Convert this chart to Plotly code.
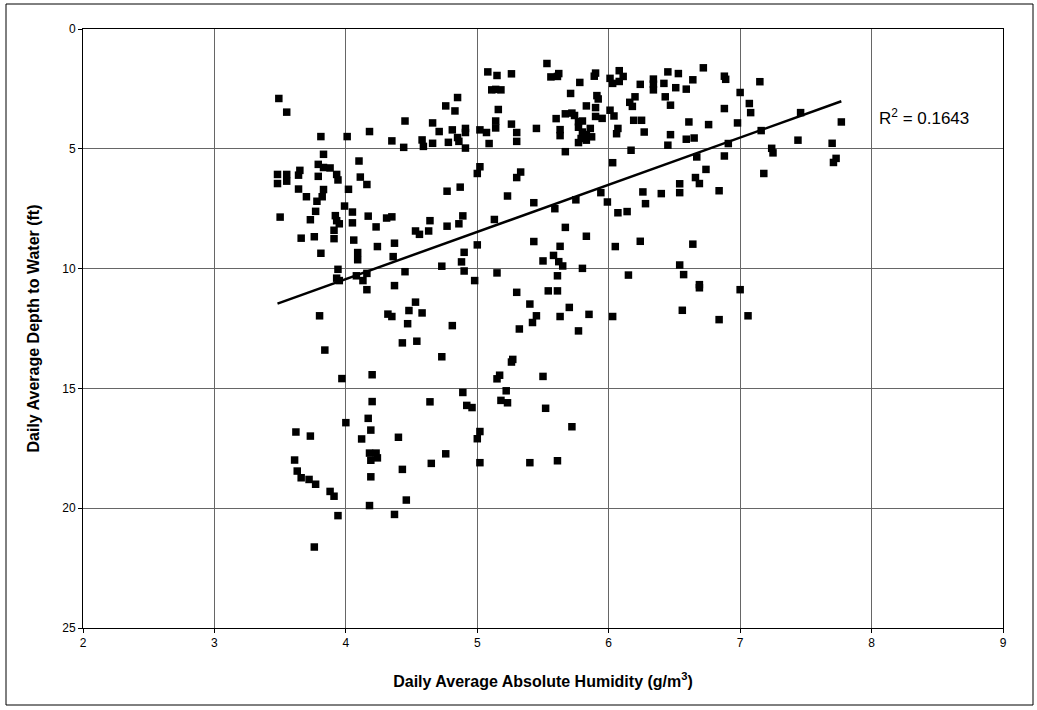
import numpy as np
import plotly.graph_objects as go

humidity = [
3.49,3.55,3.81,4.01,4.18,4.45,4.35,4.44,4.58,4.59,4.66,4.66,4.71,4.76,4.83,4.85,4.81,4.78,4.85,4.86,
4.91,4.91,4.91,5.02,5.07,5.09,5.08,5.15,5.11,5.14,5.18,5.16,5.14,5.14,5.02,5.00,3.83,3.79,3.83,3.88,
3.79,3.93,3.94,4.10,4.11,4.16,4.02,3.48,3.55,3.48,3.55,3.65,3.64,3.64,3.83,4.77,4.87,
5.26,5.53,5.56,5.62,5.61,5.78,5.71,5.90,5.89,5.91,5.92,5.83,5.90,5.90,5.95,6.01,6.03,6.08,6.11,6.08,
6.01,6.04,5.67,5.72,5.74,5.60,5.63,5.63,5.77,5.80,5.77,5.80,5.86,5.83,5.87,5.79,5.77,5.83,5.45,5.26,
5.30,5.30,5.67,6.03,5.30,5.33,6.07,6.06,6.19,6.25,6.27,6.16,6.20,6.18,6.24,6.34,6.34,6.34,6.42,6.45,
6.53,6.51,6.59,6.64,6.72,6.43,6.47,6.61,6.76,6.47,6.45,6.59,6.65,6.88,6.89,6.88,7.00,6.98,6.91,6.88,
6.67,6.74,6.66,6.69,6.54,6.17,
7.15,7.07,7.08,7.16,7.46,7.44,7.77,7.70,7.24,7.25,7.73,7.71,7.18,
3.70,3.78,3.82,3.50,3.73,3.77,3.99,3.92,3.93,3.95,4.05,4.05,3.91,3.91,3.66,3.76,3.81,4.17,4.31,4.35,
4.23,4.06,4.09,4.09,4.24,4.37,4.36,4.53,4.56,4.63,4.64,4.77,4.86,4.89,5.00,4.90,4.88,4.90,4.98,4.73,
4.45,3.94,3.93,3.95,4.08,4.13,4.16,4.16,4.37,4.53,4.48,4.58,4.32,4.35,4.47,3.80,5.13,5.15,5.23,
5.43,5.59,5.75,5.94,5.99,6.26,6.40,6.54,6.84,6.28,6.07,6.14,5.67,5.83,5.43,5.63,6.05,6.24,6.64,5.58,
5.62,5.65,5.50,5.80,5.61,6.15,6.54,6.57,6.69,6.69,7.00,5.30,5.54,5.61,5.40,5.70,5.45,5.63,5.85,6.03,
6.56,6.84,7.06,
4.81,3.84,4.43,4.54,4.73,3.97,4.20,4.89,5.15,5.17,5.22,5.18,5.23,4.20,4.64,4.92,4.96,4.00,4.17,4.19,
3.62,3.73,4.12,4.40,5.02,5.00,
5.32,5.42,5.77,5.27,5.26,5.50,5.52,5.72,
3.61,3.63,3.66,3.72,3.77,3.88,3.91,3.94,3.76,4.18,4.23,4.24,4.19,4.19,4.43,4.65,4.76,5.02,4.18,4.46,
4.37,5.40,5.61,
]

depth = [
2.90,3.47,4.49,4.49,4.28,3.84,4.67,4.94,4.63,4.90,4.77,3.92,4.28,3.21,3.42,2.86,4.21,4.73,4.53,4.69,
4.15,4.32,4.97,4.21,4.32,4.78,1.79,1.94,2.54,2.52,2.54,3.36,3.84,4.13,5.75,6.03,5.23,5.65,5.78,5.80,
6.15,6.07,6.30,5.51,6.18,6.49,6.69,6.07,6.07,6.45,6.35,5.90,6.10,6.68,6.70,6.77,6.60,
1.87,1.44,2.00,1.86,1.98,2.23,2.69,1.84,1.97,2.78,2.92,3.21,3.28,3.65,3.73,2.06,2.27,1.74,1.98,2.19,
3.39,3.63,3.54,3.51,3.61,3.74,4.20,4.45,3.87,3.84,4.10,4.30,4.15,4.41,4.50,4.57,4.74,4.64,4.15,3.97,
4.32,4.69,5.12,5.58,6.20,5.97,4.15,4.37,3.81,3.81,4.30,3.06,2.83,3.23,2.31,2.09,2.30,2.54,2.27,1.79,
1.86,2.45,2.51,2.12,1.62,2.83,3.18,3.88,3.99,4.41,4.85,4.60,4.55,1.97,2.10,3.32,2.65,3.92,4.78,5.30,
5.34,5.86,6.20,6.45,6.46,5.06,
2.20,3.11,3.49,4.24,3.49,4.64,3.88,4.77,4.98,5.17,5.40,5.57,6.03,
7.00,7.19,7.00,7.85,7.96,7.61,7.39,7.79,8.00,8.13,7.64,8.09,8.40,8.75,8.73,8.67,9.36,7.81,7.89,7.84,
8.26,8.81,9.33,9.63,9.08,8.94,9.50,8.43,8.57,8.43,8.00,8.23,8.13,7.80,9.01,9.32,9.72,10.10,10.50,9.90,
10.13,10.03,10.40,10.50,10.30,10.50,10.20,10.88,10.71,11.40,11.75,11.85,11.90,12.00,12.30,11.97,7.95,10.18,6.97,
7.25,7.50,7.13,6.83,7.22,6.80,6.87,6.83,6.75,7.29,7.67,7.62,8.28,8.65,8.87,9.07,9.08,8.86,8.98,9.45,
9.71,9.89,9.68,9.99,10.30,10.27,9.85,10.25,10.67,10.80,10.88,10.99,10.93,10.93,11.48,11.62,11.97,12.00,11.91,12.00,
11.74,12.13,11.97,
12.38,13.40,13.10,13.03,13.68,14.59,14.43,15.17,14.60,14.45,15.10,15.50,15.60,15.55,15.56,15.71,15.80,16.43,16.25,16.74,
16.82,16.99,17.11,17.04,16.80,17.10,
12.52,12.25,12.60,13.79,13.90,14.50,15.83,16.60,
17.99,18.45,18.73,18.80,19.00,19.30,19.50,20.31,21.62,17.70,17.70,17.90,18.00,18.69,18.38,18.13,17.73,18.10,19.89,19.66,
20.26,18.10,18.02,
]

r2_label = "R<sup>2</sup> = 0.1643"
x_ticks = [2, 3, 4, 5, 6, 7, 8, 9]
y_ticks = [0, 5, 10, 15, 20, 25]

hx = np.array(humidity)
dy = np.array(depth)
slope, intercept = np.polyfit(hx, dy, 1)
tx = np.array([hx.min(), hx.max()])
ty = slope * tx + intercept

FONT = "Arial, 'Liberation Sans', sans-serif"

W, H = 1037, 710
L, R, T, B = 83, 34, 29, 82
pw, ph = W - L - R, H - T - B

fig = go.Figure()
fig.add_trace(go.Scatter(
    x=humidity, y=depth, mode="markers",
    marker=dict(symbol="square", size=7.5, color="black", line=dict(width=0)),
    showlegend=False, hoverinfo="x+y"))
fig.add_trace(go.Scatter(
    x=tx, y=ty, mode="lines", line=dict(color="black", width=2.5),
    showlegend=False, hoverinfo="skip"))

fig.add_annotation(x=8.04, y=3.68, xref="x", yref="y", text=r2_label,
                   showarrow=False, xanchor="left", yanchor="middle",
                   font=dict(family=FONT, size=17, color="black"))

# outer chart border
fig.add_shape(type="rect", xref="paper", yref="paper",
              x0=(6 - L) / pw, x1=(1033 - L) / pw,
              y0=-(705 - (T + ph)) / ph, y1=1 + (T - 4) / ph,
              line=dict(color="black", width=1), fillcolor="rgba(0,0,0,0)", layer="below")

fig.update_layout(
    width=W, height=H,
    margin=dict(l=L, r=R, t=T, b=B, autoexpand=False),
    paper_bgcolor="white", plot_bgcolor="white",
    font=dict(family=FONT, size=12, color="black"),
    xaxis=dict(range=[2, 9], tickvals=x_ticks, showgrid=True, gridcolor="#666666", gridwidth=1,
               showline=True, linecolor="black", linewidth=1, mirror=True, automargin=False,
               ticks="outside", ticklen=4, tickcolor="black", zeroline=False,
               tickfont=dict(family=FONT, size=12),
               title=dict(text="<b>Daily Average Absolute Humidity (g/m<sup>3</sup>)</b>",
                          font=dict(family=FONT, size=16), standoff=26)),
    yaxis=dict(range=[25, 0], tickvals=y_ticks, showgrid=True, gridcolor="#666666", gridwidth=1,
               showline=True, linecolor="black", linewidth=1, mirror=True, automargin=False,
               ticks="outside", ticklen=4, tickcolor="black", zeroline=False,
               tickfont=dict(family=FONT, size=12),
               title=dict(text="<b>Daily Average Depth to Water (ft)</b>",
                          font=dict(family=FONT, size=16), standoff=18)),
)

fig.write_html("out.html", config={"displayModeBar": False},
               post_script="document.body.style.margin='0';document.body.style.overflow='hidden';")
